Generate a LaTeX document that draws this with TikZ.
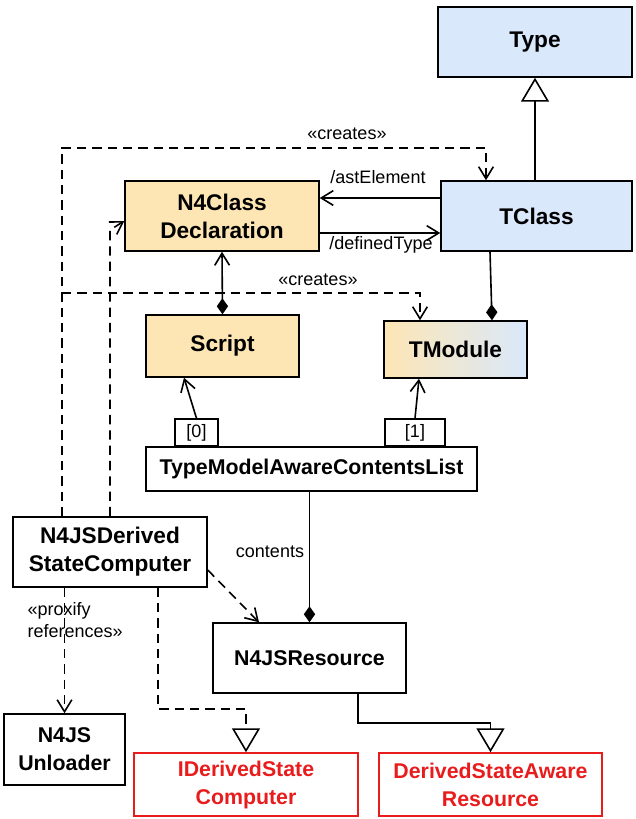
\documentclass[tikz,border=0pt]{standalone}
\usepackage{fontspec}
\setmainfont{Liberation Sans}
\usetikzlibrary{arrows.meta}
\usepackage{color}

\definecolor{typeblue}{RGB}{218,232,252}
\definecolor{astorange}{RGB}{253,230,180}
\definecolor{extred}{RGB}{232,28,28}

\tikzset{
  box/.style={draw,rectangle,line width=1.1pt,inner sep=1pt,align=center,
    font=\bfseries\fontsize{17}{21}\selectfont},
  smallbox/.style={box,font=\bfseries\fontsize{16}{21}\selectfont},
  extbox/.style={smallbox,draw=extred,text=extred},
  idxbox/.style={draw,rectangle,line width=1.1pt,inner sep=0pt,
    minimum height=20.25pt,font=\fontsize{13.5}{16}\selectfont},
  lbl/.style={inner sep=1pt,font=\fontsize{13.5}{17}\selectfont},
  conn/.style={line width=1.2pt},
  dep/.style={conn,dash pattern=on 7pt off 4.5pt},
  comp/.style={-{Diamond[length=12pt,width=8.5pt]}},
  gen/.style={-{Triangle[open,length=18pt,width=21pt]}}
}

\begin{document}
\begin{tikzpicture}[x=0.75pt,y=-0.75pt,>={Straight Barb[length=9pt,width=11pt]}]
  \useasboundingbox (0,0) rectangle (636,819);

  \node[box,fill=typeblue,minimum width=145.5pt,minimum height=52.5pt] at (535,42) (n-type) {Type};
  \node[box,fill=typeblue,minimum width=143.25pt,minimum height=52.5pt] at (536.5,216) (n-tclass) {TClass};
  \node[box,fill=astorange,minimum width=145.5pt,minimum height=52.5pt] at (222,216) (n-n4class) {N4Class\\Declaration};
  \node[box,fill=astorange,minimum width=114.75pt,minimum height=46.5pt] at (222.5,346) (n-script) {Script};
  \node[box,left color=astorange,right color=typeblue,minimum width=107.25pt,minimum height=42.75pt] at (455.5,349.5) (n-tmodule) {TModule};

  \node[idxbox,minimum width=32.25pt] at (196.5,432.5) (n-idx0) {[0]};
  \node[idxbox,minimum width=45pt] at (415,432.5) (n-idx1) {[1]};
  \node[smallbox,minimum width=248.25pt,minimum height=33pt] at (311.5,469) (n-list) {TypeModelAwareContentsList};

  \node[box,minimum width=145.5pt,minimum height=52.5pt] at (110,552) (n-derived) {N4JSDerived\\StateComputer};
  \node[smallbox,minimum width=144.75pt,minimum height=52.5pt] at (309.5,658) (n-resource) {N4JSResource};
  \node[smallbox,minimum width=90.75pt,minimum height=53.25pt] at (64.5,749.5) (n-unloader) {N4JS\\Unloader};
  \node[extbox,minimum width=168pt,minimum height=47.25pt] at (246,784.5) (n-iderived) {IDerivedState\\Computer};
  \node[extbox,minimum width=167.25pt,minimum height=47.25pt] at (490.5,784.5) (n-dsar) {DerivedStateAware\\Resource};

  \draw[conn,gen] (n-tclass.north -| n-type.south) -- (n-type.south);

  \draw[conn,->] (n-tclass.west |- 0,198) -- (n-n4class.east |- 0,198);
  \draw[conn,->] (n-n4class.east |- 0,233) -- (n-tclass.west |- 0,233);
  \node[lbl] at (378,177) (l-ast) {/astElement};
  \node[lbl] at (381,245) (l-deftype) {/definedType};

  \draw[conn,{Diamond[length=12pt,width=8.5pt]}->] (n-script.north) -- (n-n4class.south);
  \draw[conn,comp] (n-tclass.south -| 490,0) -- (n-tmodule.north -| 492,0);

  \coordinate (c-left) at (62,148);
  \coordinate (c-top) at (486,148);
  \draw[dep,->] (n-derived.north -| c-left) |- (c-top) -- (c-top |- n-tclass.north);
  \node[lbl] at (347,134) (l-creates1) {«creates»};

  \coordinate (c-mid) at (420,293);
  \draw[dep,->] (c-left |- c-mid) -- (c-mid) -- (c-mid |- n-tmodule.north);
  \node[lbl] at (318,280) (l-creates2) {«creates»};

  \coordinate (c-bend) at (110,230);
  \draw[dep,->] (n-derived.north) -- (c-bend) -- (n-n4class.west |- 0,221);

  \draw[conn,->] (n-idx0.north) -- (n-script.south -| 184,0);
  \draw[conn,->] (n-idx1.north) -- (n-tmodule.south -| 419,0);

  \draw[conn,comp] (n-list.south -| n-resource.north) -- (n-resource.north);
  \node[lbl] at (270,552) (l-contents) {contents};

  \draw[dep,->] (n-derived.east |- 0,570) -- (n-resource.north -| 259,0);

  \draw[dep,->] (n-derived.south -| n-unloader.north) -- (n-unloader.north);
  \node[lbl,align=left,anchor=west] at (26,620) (l-proxify) {«proxify\\references»};

  \coordinate (c-ifc) at (158,709);
  \draw[dep,gen] (n-derived.south -| c-ifc) |- (c-ifc -| n-iderived.north) -- (n-iderived.north);

  \coordinate (c-impl) at (358,723);
  \draw[conn,gen] (n-resource.south -| c-impl) |- (c-impl -| n-dsar.north) -- (n-dsar.north);

\end{tikzpicture}
\end{document}
